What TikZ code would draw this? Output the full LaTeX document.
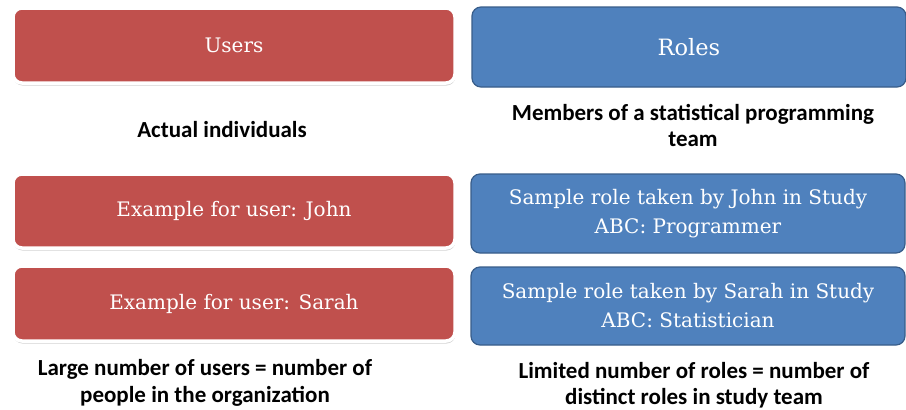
\documentclass[tikz,border=0pt]{standalone}
\usepackage{fontspec}
\setmainfont{DejaVu Serif}
\newfontfamily\labfont{Carlito}
\usetikzlibrary{shadows}
\definecolor{boxred}{HTML}{C0504D}
\definecolor{boxblue}{HTML}{4F81BD}
\definecolor{blueedge}{HTML}{385D8A}
\begin{document}
\begin{tikzpicture}[x=1pt,y=-1pt,
  redbox/.style={rectangle, rounded corners=9pt, fill=boxred, draw=white, line width=3.5pt,
    drop shadow={shadow xshift=0.5pt, shadow yshift=-2.5pt, fill=black!35},
    minimum width=442pt, inner sep=0pt, text=white, font=\fontsize{20}{24}\selectfont},
  bluebox/.style={rectangle, rounded corners=9pt, fill=boxblue, draw=blueedge, line width=1.2pt,
    minimum width=434pt, inner sep=0pt, text=white, align=center,
    font=\fontsize{20}{29}\selectfont},
  lab/.style={align=center, text=black, inner sep=0pt, font=\labfont\bfseries\fontsize{23}{26.5}\selectfont}]
\useasboundingbox (0,0) rectangle (906,410);
\fill[white] (0,0) rectangle (906,410);
% left column
\node[redbox, minimum height=75pt] (users) at (234,45.5) {Users};
\node[redbox, minimum height=74pt] (john) at (234,211) {Example for user: John};
\node[redbox, minimum height=75pt] (sarah) at (234,303.5) {Example for user: Sarah};
% right column
\node[bluebox, minimum height=80pt, font=\fontsize{22.5}{27}\selectfont] (roles) at (689,47) {Roles};
\node[bluebox, minimum height=79pt] (rjohn) at (688,213.5) {Sample role taken by John in Study\\ABC: Programmer};
\node[bluebox, minimum height=78pt] (rsarah) at (688,306) {Sample role taken by Sarah in Study\\ABC: Statistician};
% labels
\node[lab] (actual) at (222,130) {Actual individuals};
\node[lab] (members) at (693,125.5) {Members of a statistical programming\\team};
\node[lab] (large) at (205,383) {Large number of users = number of\\people in the organization};
\node[lab] (limited) at (694,385) {Limited number of roles = number of\\distinct roles in study team};
\end{tikzpicture}
\end{document}
